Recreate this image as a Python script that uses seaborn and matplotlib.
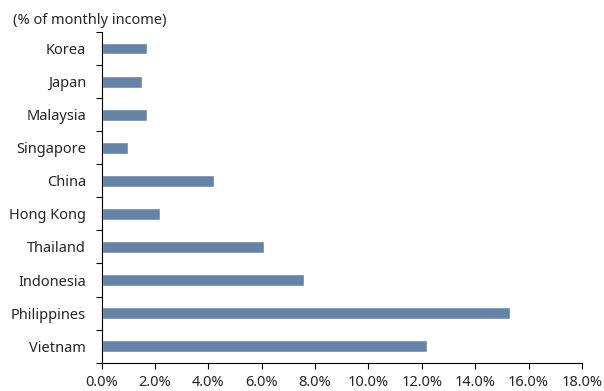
import matplotlib
matplotlib.use('Agg')
import matplotlib.pyplot as plt
import seaborn as sns
import pandas as pd
from matplotlib.ticker import FuncFormatter, MultipleLocator

countries = ['Korea', 'Japan', 'Malaysia', 'Singapore', 'China',
             'Hong Kong', 'Thailand', 'Indonesia', 'Philippines', 'Vietnam']
share = [1.7, 1.5, 1.7, 1.0, 4.2, 2.2, 6.1, 7.6, 15.3, 12.2]

df = pd.DataFrame({'country': countries, 'share': share})

sns.set_style('white')
plt.rcParams['font.family'] = ['Noto Sans', 'DejaVu Sans']

fig = plt.figure(figsize=(6.04, 3.91), dpi=100)
ax = fig.add_axes([101.5 / 604, 1 - 362.7 / 391, (582 - 101.5) / 604, (362.7 - 32) / 391])

sns.barplot(data=df, x='share', y='country', color='#6582a7', width=0.36,
            saturation=1, ax=ax)

ax.set_xlim(0, 18)
ax.set_ylim(len(countries) - 0.5, -0.5)
ax.xaxis.set_major_locator(MultipleLocator(2))
ax.xaxis.set_major_formatter(FuncFormatter(lambda v, p: f'{v:.1f}%'))

# category labels centred, ticks at boundaries
ax.set_yticks(range(len(countries)))
ax.set_yticklabels(countries)
ax.set_yticks([i - 0.5 for i in range(len(countries) + 1)], minor=True)
ax.tick_params(axis='y', which='major', left=True, length=0, pad=11, labelsize=10.5)
ax.tick_params(axis='y', which='minor', left=True, length=4, width=0.8, color='black', direction='out')
ax.tick_params(axis='x', bottom=True, length=4, width=0.8, color='black', direction='out',
               labelsize=10.5, pad=5)

for side in ['top', 'right']:
    ax.spines[side].set_visible(False)
for side in ['left', 'bottom']:
    ax.spines[side].set_color('black')
    ax.spines[side].set_linewidth(0.8)

ax.set_xlabel('')
ax.set_ylabel('')
fig.text(13 / 604, 1 - 20 / 391, '(% of monthly income)', fontsize=10.5, va='center', ha='left')

fig.savefig('out.png', dpi=100)
